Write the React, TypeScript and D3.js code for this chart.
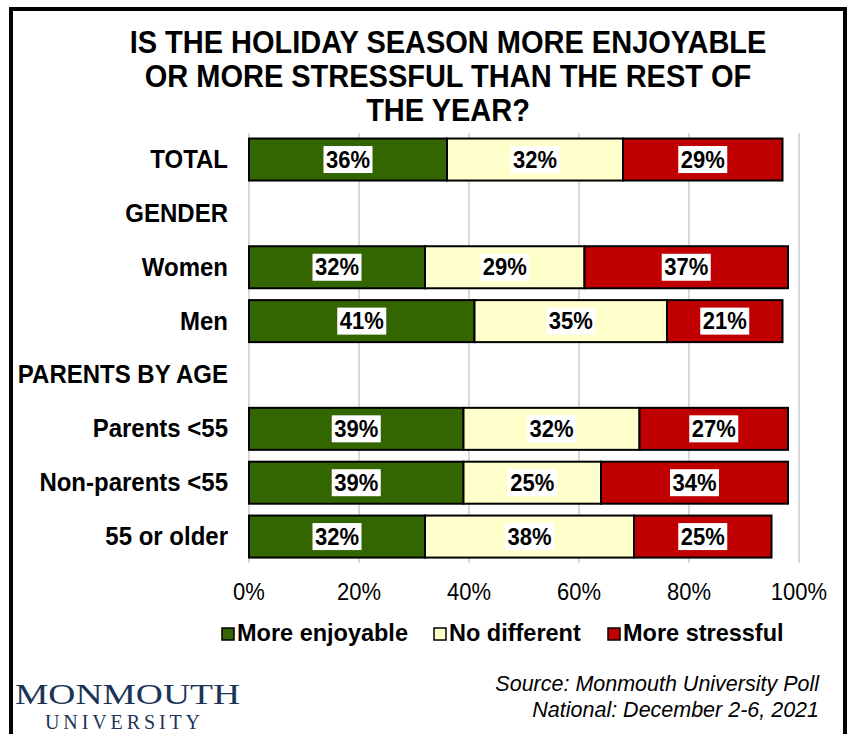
import React from "react";
import * as d3 from "d3";

const categories = ["TOTAL", "GENDER", "Women", "Men", "PARENTS BY AGE", "Parents <55", "Non-parents <55", "55 or older"];
const seriesNames = ["More enjoyable", "No different", "More stressful"];
const seriesColors = ["#336600", "#FFFFCC", "#C00000"];
const enjoyable = [36, null, 32, 41, null, 39, 39, 32];
const noDifferent = [32, null, 29, 35, null, 32, 25, 38];
const stressful = [29, null, 37, 21, null, 27, 34, 25];
const xTicks = [0, 20, 40, 60, 80, 100];
const titleLines = ["IS THE HOLIDAY SEASON MORE ENJOYABLE", "OR MORE STRESSFUL THAN THE REST OF", "THE YEAR?"];
const sourceLines = ["Source:  Monmouth University Poll", "National: December 2-6, 2021"];

const W = 848;
const H = 734;
const FONT = "'Liberation Sans', Arial, Helvetica, sans-serif";
const SERIF = "'Liberation Serif', 'Times New Roman', serif";

export default function App() {
  const x = d3.scaleLinear().domain([0, 100]).range([249, 799]);
  const y = d3.scaleBand<string>().domain(categories).range([132.6, 563.5]).paddingInner(0.22).paddingOuter(0.11);
  const series = [enjoyable, noDifferent, stressful];
  const stackData = categories
    .map((c, i) => ({ c, vals: series.map((s) => s[i]) }))
    .filter((r) => r.vals[0] !== null)
    .map((r) => ({ c: r.c, s0: r.vals[0] as number, s1: r.vals[1] as number, s2: r.vals[2] as number }));
  const stacked = d3.stack<any>().keys(["s0", "s1", "s2"])(stackData);

  const legendX = [222, 434, 608];

  const vs = (px: number, py: number, k: number) => `translate(${px},${py}) scale(1,${k})`;

  return (
    <div style={{ position: "fixed", left: 0, top: 0, width: W, height: H, overflow: "hidden" }}>
      <svg width={W} height={H} style={{ display: "block", background: "#fff" }} fontFamily={FONT}>
        <rect x={11} y={9} width={834} height={745} fill="#fff" stroke="#000" strokeWidth={4} />
        {titleLines.map((t, i) => (
          <text key={i} transform={vs(448, 53 + i * 34, 1.05)} textAnchor="middle" fontSize={29} fontWeight="bold" fill="#000">
            {t}
          </text>
        ))}
        {xTicks.map((t) => (
          <line key={t} x1={x(t)} x2={x(t)} y1={133} y2={563} stroke="#d9d9d9" strokeWidth={2} />
        ))}
        {stacked.map((layer, si) =>
          layer.map((d: any) => (
            <rect
              key={si + d.data.c}
              x={x(d[0])}
              y={y(d.data.c)}
              width={x(d[1]) - x(d[0])}
              height={y.bandwidth()}
              fill={seriesColors[si]}
              stroke="#000"
              strokeWidth={2}
            />
          ))
        )}
        {stacked.map((layer, si) =>
          layer.map((d: any) => {
            const cx = (x(d[0]) + x(d[1])) / 2;
            const cy = (y(d.data.c) as number) + y.bandwidth() / 2;
            const v = d[1] - d[0];
            return (
              <g key={"l" + si + d.data.c}>
                <rect x={cx - 24.5} y={cy - 13.5} width={49} height={27} fill="#fff" />
                <text transform={vs(cx, cy + 8, 1.1)} textAnchor="middle" fontSize={22} fontWeight="bold" fill="#000">
                  {v}%
                </text>
              </g>
            );
          })
        )}
        {categories.map((c) => (
          <text
            key={c}
            transform={vs(228, (y(c) as number) + y.bandwidth() / 2 + 8.5, 1.05)}
            textAnchor="end"
            fontSize={24}
            fontWeight="bold"
            fill="#000"
          >
            {c}
          </text>
        ))}
        {xTicks.map((t) => (
          <text key={"t" + t} transform={vs(x(t), 600, 1.05)} textAnchor="middle" fontSize={22} fill="#000">
            {t}%
          </text>
        ))}
        {seriesNames.map((n, i) => (
          <g key={n}>
            <rect x={legendX[i]} y={628} width={12} height={12} fill={seriesColors[i]} stroke="#000" strokeWidth={1.5} />
            <text transform={vs(legendX[i] + 15, 641, 1.05)} fontSize={23.5} fontWeight="bold" fill="#000">
              {n}
            </text>
          </g>
        ))}
        {sourceLines.map((s, i) => (
          <text key={s} transform={vs(819, 691 + i * 26, 1.05)} textAnchor="end" fontSize={21.5} fontStyle="italic" fill="#000">
            {s}
          </text>
        ))}
        <text x={15} y={704} fontSize={30} fontFamily={SERIF} fill="#1c3459" textLength={225} lengthAdjust="spacingAndGlyphs">
          MONMOUTH
        </text>
        <text x={45} y={729} fontSize={20} fontFamily={SERIF} fill="#1c3459" textLength={155} lengthAdjust="spacing">
          UNIVERSITY
        </text>
      </svg>
    </div>
  );
}
